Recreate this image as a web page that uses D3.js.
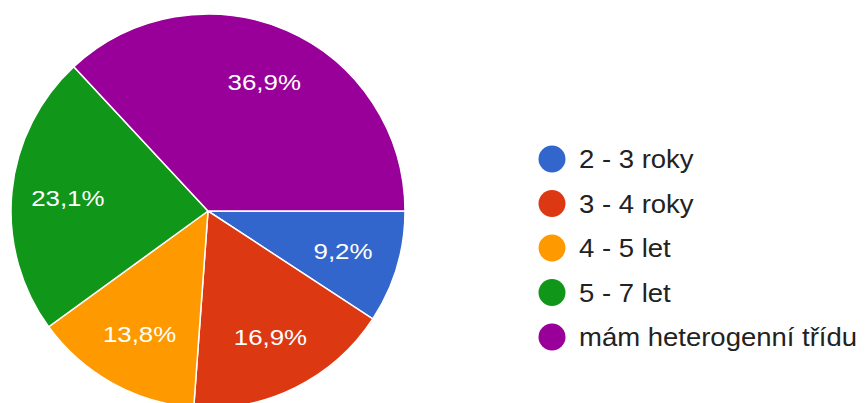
<!DOCTYPE html>
<html>
<head>
<meta charset="utf-8">
<script src="https://cdn.jsdelivr.net/npm/d3@7"></script>
<style>
  body { margin: 0; background: #fff; }
  svg { display: block; font-family: "Liberation Sans", Arial, sans-serif; }
</style>
</head>
<body>
<svg id="chart" width="865" height="403"></svg>
<script>
// odpovedi (pocty), 65 celkem
const categories = ["2 - 3 roky", "3 - 4 roky", "4 - 5 let", "5 - 7 let", "mám heterogenní třídu"];
const counts = [6, 11, 9, 15, 24];
const colors = ["#3366cc", "#dc3912", "#ff9900", "#109618", "#990099"];

const width = 865, height = 403;
const cx = 208, cy = 211, radius = 197;

const svg = d3.select("#chart");
const data = categories.map((c, i) => ({ name: c, value: counts[i], color: colors[i] }));
const total = d3.sum(counts);

const pie = d3.pie()
  .value(d => d.value)
  .sort(null)
  .startAngle(Math.PI / 2)
  .endAngle(Math.PI / 2 + 2 * Math.PI);

const arc = d3.arc().innerRadius(0).outerRadius(radius);
const labelArc = d3.arc().innerRadius(radius * 0.715).outerRadius(radius * 0.715);

const g = svg.append("g").attr("transform", `translate(${cx},${cy})`);
const arcs = pie(data);

g.selectAll("path.slice")
  .data(arcs)
  .join("path")
  .attr("class", "slice")
  .attr("d", arc)
  .attr("fill", d => d.data.color)
  .attr("stroke", "#fff")
  .attr("stroke-width", 1.5);

const fmt = v => (Math.round(v * 1000) / 10).toFixed(1).replace(".", ",") + "%";

// text v predloze je trochu sirsi
g.selectAll("text.pct")
  .data(arcs)
  .join("text")
  .attr("class", "pct")
  .attr("transform", d => `translate(${labelArc.centroid(d)}) scale(1.15,1)`)
  .attr("text-anchor", "middle")
  .attr("dy", "0.36em")
  .attr("font-size", 22.5)
  .attr("fill", "#fff")
  .text(d => fmt(d.data.value / total));

// legenda
const legend = svg.append("g").attr("transform", "translate(552,159)");
const ly = d3.scalePoint().domain(categories).range([0, 178]);

const item = legend.selectAll("g.item")
  .data(data)
  .join("g")
  .attr("class", "item")
  .attr("transform", d => `translate(0,${ly(d.name)})`);

item.append("circle")
  .attr("r", 13.5)
  .attr("fill", d => d.color);

item.append("text")
  .attr("transform", "translate(27,0) scale(1.1,1)")
  .attr("dy", "0.36em")
  .attr("font-size", 25)
  .attr("fill", "#222")
  .text(d => d.name);
</script>
</body>
</html>
